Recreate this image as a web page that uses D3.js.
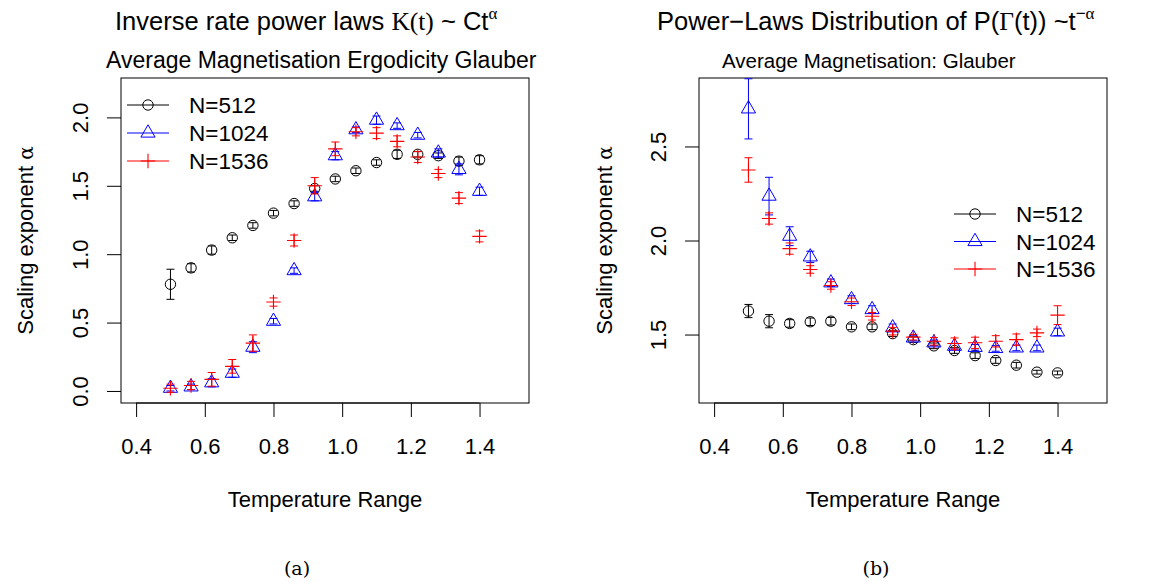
<!DOCTYPE html>
<html>
<head>
<meta charset="utf-8">
<script src="https://cdn.jsdelivr.net/npm/d3@7"></script>
<style>
  body { margin: 0; background: #fff; }
  svg text { font-family: "Liberation Sans", Arial, sans-serif; fill: #000; }
</style>
</head>
<body>
<div id="chart"></div>
<script>
// temperatures shared by both panels
const temps = [0.50, 0.56, 0.62, 0.68, 0.74, 0.80, 0.86, 0.92, 0.98, 1.04, 1.10, 1.16, 1.22, 1.28, 1.34, 1.40];
const xTicks = [0.4, 0.6, 0.8, 1.0, 1.2, 1.4];

// (a) inverse rate exponents
const rate512  = [0.78, 0.90, 1.03, 1.12, 1.21, 1.30, 1.37, 1.48, 1.55, 1.61, 1.67, 1.73, 1.73, 1.72, 1.68, 1.69];
const rate512Err  = [0.11, 0.03, 0.03, 0.02, 0.02, 0.02, 0.02, 0.02, 0.02, 0.02, 0.02, 0.03, 0.02, 0.02, 0.03, 0.03];
const rate1024 = [0.02, 0.03, 0.06, 0.13, 0.32, 0.51, 0.88, 1.42, 1.72, 1.91, 1.98, 1.94, 1.87, 1.74, 1.62, 1.46];
const rate1024Err = [0.02, 0.02, 0.03, 0.03, 0.04, 0.02, 0.02, 0.03, 0.03, 0.02, 0.03, 0.02, 0.02, 0.03, 0.04, 0.03];
const rate1536 = [0.02, 0.04, 0.085, 0.18, 0.35, 0.65, 1.10, 1.50, 1.77, 1.895, 1.885, 1.825, 1.71, 1.59, 1.41, 1.13];
const rate1536Err = [0.03, 0.03, 0.05, 0.05, 0.06, 0.03, 0.04, 0.06, 0.05, 0.03, 0.04, 0.04, 0.04, 0.03, 0.04, 0.04];
const rateTicks = [0.0, 0.5, 1.0, 1.5, 2.0];

// (b) power-law distribution exponents
const dist512  = [1.625, 1.571, 1.559, 1.568, 1.571, 1.541, 1.541, 1.505, 1.473, 1.44, 1.415, 1.388, 1.362, 1.337, 1.30, 1.296];
const dist512Err  = [0.035, 0.035, 0.02, 0.02, 0.02, 0.015, 0.015, 0.015, 0.015, 0.015, 0.015, 0.015, 0.015, 0.015, 0.01, 0.01];
const dist1024 = [2.70, 2.236, 2.023, 1.913, 1.775, 1.686, 1.633, 1.536, 1.482, 1.456, 1.438, 1.432, 1.426, 1.429, 1.429, 1.514];
const dist1024Err = [0.16, 0.10, 0.05, 0.03, 0.02, 0.02, 0.02, 0.02, 0.015, 0.015, 0.015, 0.015, 0.015, 0.015, 0.015, 0.02];
const dist1536 = [2.375, 2.117, 1.957, 1.846, 1.761, 1.674, 1.597, 1.518, 1.486, 1.464, 1.452, 1.456, 1.464, 1.473, 1.509, 1.603];
const dist1536Err = [0.065, 0.03, 0.03, 0.02, 0.02, 0.02, 0.02, 0.02, 0.015, 0.02, 0.03, 0.03, 0.03, 0.03, 0.02, 0.05];
const distTicks = [1.5, 2.0, 2.5];

const seriesNames = ["N=512", "N=1024", "N=1536"];
const seriesColors = ["#000000", "#0000ff", "#ff0000"];
const seriesShapes = ["circle", "triangle", "plus"];

const W = 1171, H = 582;
const svg = d3.select("#chart").append("svg")
  .attr("width", W).attr("height", H);

// R style point symbols (pch 1, 2, 3)
function drawSymbol(g, shape, color, cx, cy) {
  if (shape === "circle") {
    g.append("circle").attr("cx", cx).attr("cy", cy).attr("r", 5.2)
      .attr("fill", "none").attr("stroke", color).attr("stroke-width", 1);
  } else if (shape === "triangle") {
    const r = 8.2, hw = 7.1;
    g.append("path")
      .attr("d", `M${cx},${cy - r}L${cx + hw},${cy + r / 2}L${cx - hw},${cy + r / 2}Z`)
      .attr("fill", "none").attr("stroke", color).attr("stroke-width", 1);
  } else {
    const s = 7.2;
    g.append("path")
      .attr("d", `M${cx - s},${cy}H${cx + s}M${cx},${cy - s}V${cy + s}`)
      .attr("stroke", color).attr("stroke-width", 1.1);
  }
}

function drawPanel(opt) {
  const g = svg.append("g");
  const x = d3.scaleLinear().domain([0.356, 1.544]).range([opt.left, opt.left + 408]);
  const y = d3.scaleLinear().domain(opt.yDomain).range([403, 78]);

  const clipId = "clip" + opt.id;
  svg.append("clipPath").attr("id", clipId)
    .append("rect").attr("x", opt.left).attr("y", 78).attr("width", 408).attr("height", 325);

  // x axis
  const xAxis = g.append("g").attr("transform", "translate(0,403)")
    .call(d3.axisBottom(x).tickValues(xTicks).tickSize(14).tickPadding(21)
      .tickFormat(d3.format(".1f")));
  xAxis.select(".domain").attr("d", `M${x(0.4)},0H${x(1.4)}`).attr("stroke", "#000");
  xAxis.selectAll("text").style("font-size", "22px").style("font-family", "Liberation Sans, Arial, sans-serif");

  // y axis with labels parallel to the axis
  const yAxis = g.append("g").attr("transform", `translate(${opt.left},0)`)
    .call(d3.axisLeft(y).tickValues(opt.yTicks).tickSize(14).tickFormat(d3.format(".1f")));
  yAxis.selectAll("text")
    .attr("transform", "rotate(-90)")
    .attr("x", 0).attr("y", -33).attr("dy", 0)
    .style("text-anchor", "middle")
    .style("font-size", "22px").style("font-family", "Liberation Sans, Arial, sans-serif");
  yAxis.selectAll(".domain").remove();

  // box
  g.append("rect").attr("x", opt.left).attr("y", 78).attr("width", 408).attr("height", 325)
    .attr("fill", "none").attr("stroke", "#000").attr("stroke-width", 1);

  // data
  const plot = g.append("g").attr("clip-path", `url(#${clipId})`);
  opt.series.forEach((s, i) => {
    const sg = plot.append("g");
    temps.forEach((t, j) => {
      const cx = x(t), v = s.values[j], e = s.errors[j];
      const y0 = y(v - e), y1 = y(v + e);
      sg.append("path")
        .attr("d", `M${cx},${y0}V${y1}M${cx - 4},${y0}H${cx + 4}M${cx - 4},${y1}H${cx + 4}`)
        .attr("stroke", seriesColors[i]).attr("stroke-width", 1).attr("fill", "none");
      drawSymbol(sg, seriesShapes[i], seriesColors[i], cx, y(v));
    });
  });

  // legend (no box)
  const lg = g.append("g");
  seriesNames.forEach((name, i) => {
    const ly = opt.legend.y + i * opt.legend.step;
    lg.append("line").attr("x1", opt.legend.x).attr("x2", opt.legend.x + 42)
      .attr("y1", ly).attr("y2", ly).attr("stroke", seriesColors[i]).attr("stroke-width", 1);
    drawSymbol(lg, seriesShapes[i], seriesColors[i], opt.legend.x + 21, ly);
    lg.append("text").attr("x", opt.legend.x + 62).attr("y", ly).attr("dy", "0.36em")
      .style("font-size", "22.5px").text(name);
  });

  // axis titles
  g.append("text").attr("x", opt.left + 204).attr("y", 507)
    .attr("text-anchor", "middle").style("font-size", "22px").text("Temperature Range");
  const yt = g.append("text")
    .attr("transform", `translate(${opt.yTitleX},240.5) rotate(-90)`)
    .attr("text-anchor", "middle").style("font-size", "22px");
  yt.append("tspan").text("Scaling exponent ");
  yt.append("tspan").style("font-family", "DejaVu Serif, serif").style("font-size", "20px").text("α");

  // subtitle and caption
  g.append("text").attr("x", opt.subX).attr("y", 68).style("font-size", opt.subSize)
    .text(opt.subtitle);
  g.append("text").attr("x", opt.capX).attr("y", 575).attr("text-anchor", "middle")
    .style("font-family", "DejaVu Serif, Liberation Serif, serif").style("font-size", "19px")
    .text(opt.caption);
  return g;
}

const gA = drawPanel({
  id: "a", left: 121, yDomain: [-0.088, 2.288], yTicks: rateTicks,
  series: [
    { values: rate512, errors: rate512Err },
    { values: rate1024, errors: rate1024Err },
    { values: rate1536, errors: rate1536Err }
  ],
  legend: { x: 127, y: 105, step: 28 },
  yTitleX: 33, subX: 106, subSize: "23px",
  subtitle: "Average Magnetisation Ergodicity Glauber", capX: 297, caption: "(a)"
});

const gB = drawPanel({
  id: "b", left: 699, yDomain: [1.136, 2.864], yTicks: distTicks,
  series: [
    { values: dist512, errors: dist512Err },
    { values: dist1024, errors: dist1024Err },
    { values: dist1536, errors: dist1536Err }
  ],
  legend: { x: 954, y: 214, step: 27.5 },
  yTitleX: 612, subX: 722, subSize: "20.5px",
  subtitle: "Average Magnetisation: Glauber", capX: 876, caption: "(b)"
});

// main titles with math parts
const serif = "Liberation Serif, Times New Roman, serif";
const tA = gA.append("text").attr("x", 115).attr("y", 30).style("font-size", "25.5px");
tA.append("tspan").text("Inverse rate power laws ");
tA.append("tspan").style("font-family", serif).text("K(t)");
tA.append("tspan").text(" ~ Ct");
tA.append("tspan").attr("dy", -11).style("font-family", serif).style("font-size", "17px").text("α");

const tB = gB.append("text").attr("x", 657).attr("y", 30).style("font-size", "25.5px");
tB.append("tspan").text("Power\u2212Laws Distribution of ");
tB.append("tspan").text("P(");
tB.append("tspan").style("font-family", serif).text("Γ");
tB.append("tspan").text("(t)) ~t");
tB.append("tspan").attr("dy", -11).style("font-size", "17px").text("\u2212");
tB.append("tspan").style("font-family", serif).style("font-size", "17px").text("α");
</script>
</body>
</html>
